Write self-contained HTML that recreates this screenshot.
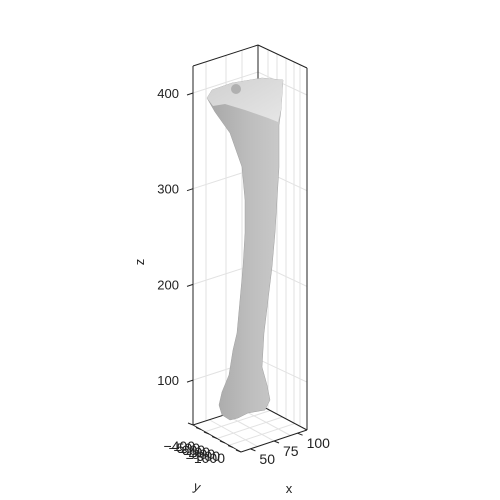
<!DOCTYPE html>
<html><head><meta charset="utf-8"><style>
body{margin:0;background:#fff}
svg{display:block;font-family:"Liberation Sans",sans-serif}
</style></head><body>
<svg id="c" width="500" height="500" viewBox="0 0 500 500">
<defs>
<linearGradient id="bg" x1="0" x2="1" y1="0" y2="0">
<stop offset="0" stop-color="#a6a6a6"/><stop offset="0.55" stop-color="#bdbdbd"/><stop offset="1" stop-color="#cacaca"/>
</linearGradient>
<linearGradient id="hg" x1="0" x2="1" y1="0" y2="1">
<stop offset="0" stop-color="#d0d0d0"/><stop offset="1" stop-color="#e6e6e6"/>
</linearGradient>
</defs>
<g id="grid"></g>
<g id="bone"></g>
<g id="axes"></g>
</svg>
<script>
const zTicks=[100,200,300,400];
const xTicks=[50,75,100];
const yTickLabels=["-400","-500","-600","-700","-800","-900","-1000"];
const boneOutline=[[207,98],[212,90],[232,83],[262,78],[283,80],[281,110],[279,125],[279,167],[277,200],[275,233],[272,267],[268,300],[264,333],[262,367],[267,385],[270,400],[265,410],[248,413],[238,418],[230,420],[222,415],[219,405],[222,392],[229,375],[233,350],[237,333],[240,300],[243,267],[245,233],[245,200],[242,167],[230,133],[215,112]];
const headOutline=[[207,98],[212,90],[232,83],[262,78],[283,80],[281,110],[278,122],[268,118],[245,110],[225,104],[213,106]];
const NS="http://www.w3.org/2000/svg";
const zy=z=>93+(400-z)*0.957;
function mk(tag,attrs,parent){const e=document.createElementNS(NS,tag);for(const k in attrs)e.setAttribute(k,attrs[k]);parent.appendChild(e);return e;}
const grid=document.getElementById('grid'),axes=document.getElementById('axes'),bone=document.getElementById('bone');
for(const z of zTicks){const y=zy(z);
 let l=mk('polyline',{points:`193,${y} 258,${y-21} 307,${y+2}`,fill:'none',stroke:'#e2e2e2','stroke-width':1},grid);
 }
[206,226,242].forEach(x=>{let l=mk('line',{x1:x,x2:x,y1:66-(x-193)*0.32,y2:425-(x-193)*0.32,stroke:'#e2e2e2'},grid);
 });
[268,277,286,294,300].forEach(x=>{let l=mk('line',{x1:x,x2:x,y1:45+(x-258)*0.47,y2:404+(x-258)*0.53,stroke:'#e2e2e2'},grid);
 });
[0.25,0.5,0.75].forEach(t=>{let a=[193+(258-193)*t,425-21*t],b=[241+(307-241)*t,452-22*t];
 let l=mk('line',{x1:a[0],y1:a[1],x2:b[0],y2:b[1],stroke:'#e2e2e2'},grid);
 a=[193+(241-193)*t,425+27*t];b=[258+(307-258)*t,404+26*t];
 l=mk('line',{x1:a[0],y1:a[1],x2:b[0],y2:b[1],stroke:'#e2e2e2'},grid);});
const backEdges=[[258,45,258,404],[193,425,258,404],[258,404,307,430]];
backEdges.forEach(e=>{let l=mk('line',{x1:e[0],y1:e[1],x2:e[2],y2:e[3],stroke:'#222','stroke-width':1},grid);
 });
let p=mk('polygon',{points:boneOutline.map(q=>q.join(',')).join(' '),fill:'url(#bg)',stroke:'#a0a0a0','stroke-width':0.5},bone);

let h=mk('polygon',{points:headOutline.map(q=>q.join(',')).join(' '),fill:'url(#hg)'},bone);

let k=mk('ellipse',{cx:236,cy:89,rx:5,ry:5,fill:'#b0b0b0'},bone);

const edges=[[193,66,258,45],[258,45,307,68],[193,66,193,425],[307,68,307,430],[193,425,241,452],[241,452,307,430]];
edges.forEach(e=>{let l=mk('line',{x1:e[0],y1:e[1],x2:e[2],y2:e[3],stroke:'#222','stroke-width':1},axes);
 });
for(const z of zTicks){const y=zy(z);
 let t=mk('line',{x1:187,x2:193,y1:y+2,y2:y,stroke:'#222'},axes);
 let tx=mk('text',{x:179,y:y+5,'text-anchor':'end','font-size':13,fill:'#222'},axes);tx.textContent=z;
 }
const xPos=v=>241+(v-40)/(110-40)*66;
for(const v of xTicks){const x=xPos(v),y=452-(x-241)*0.333;
 let t=mk('line',{x1:x,y1:y,x2:x+5,y2:y+2,stroke:'#222'},axes);
 let tx=mk('text',{x:x+9,y:y+15,'font-size':14,fill:'#222'},axes);tx.textContent=v;
 }
yTickLabels.forEach((s,i)=>{const t=i/(yTickLabels.length-1),x=193+48*t,y=425+27*t;
 let l=mk('line',{x1:x,y1:y,x2:x-5,y2:y-2,stroke:'#222'},axes);
 let tx=mk('text',{x:195+i*5,y:451+i*2,'text-anchor':'end','font-size':14,fill:'#222'},axes);tx.textContent=s.replace('-','\u2212');
 });
let zt=mk('text',{x:144,y:262,'font-size':13,fill:'#222','text-anchor':'middle',transform:'rotate(-90 144 262)'},axes);zt.textContent='z';

let yt=mk('text',{x:197,y:491,'font-size':13,fill:'#222','text-anchor':'middle',transform:'rotate(20 197 487)'},axes);yt.textContent='y';

let xt=mk('text',{x:289,y:493,'font-size':13,fill:'#222','text-anchor':'middle'},axes);xt.textContent='x';

</script>
</body></html>
